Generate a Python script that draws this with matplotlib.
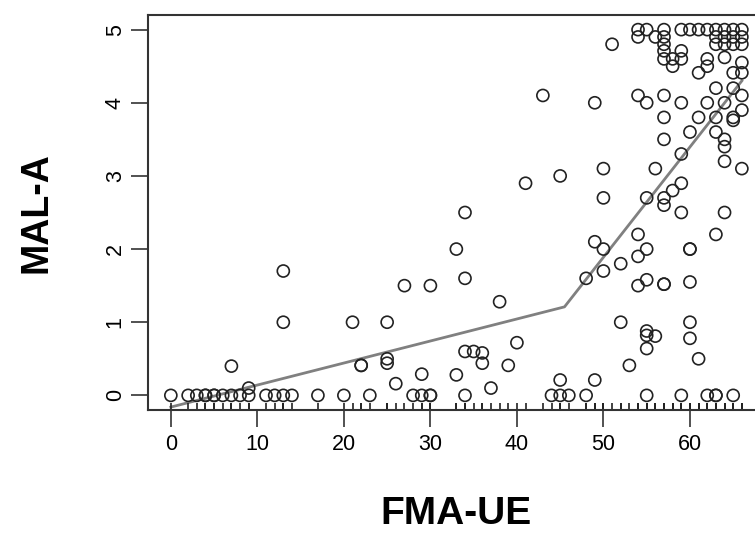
import numpy as np
import matplotlib.pyplot as plt

plt.rcParams['font.family'] = ['Liberation Sans', 'DejaVu Sans']

# FMA-UE scores and MAL-A scores
fma = [0, 2, 3, 4, 4, 5, 5, 6, 7, 8, 9, 11, 12, 13, 14, 17, 20, 23, 28, 29,
       30, 30, 34, 44, 45, 46, 48, 55, 59, 62, 63, 63, 65,
       7, 9, 13, 13, 21, 22, 22, 25, 25, 25, 26, 27, 29, 30, 33, 33, 34, 34,
       34, 35, 36, 36, 37, 38, 39, 40, 41, 43, 45, 45, 49,
       48, 49, 49, 50, 50, 50, 50, 51, 52, 52, 53, 54, 54, 54, 54, 54, 54,
       55, 55, 55, 55, 55, 55, 55, 55, 56, 56, 56,
       57, 57, 57, 57, 57, 57, 57, 57, 57, 57, 57, 57,
       58, 58, 58, 59, 59, 59, 59, 59, 59, 59,
       60, 60, 60, 60, 60, 60, 60, 61, 61, 61, 61, 62, 62, 62, 62,
       63, 63, 63, 63, 63, 63, 63, 64, 64, 64, 64, 64, 64, 64, 64, 64,
       65, 65, 65, 65, 65, 65, 65, 66, 66, 66, 66, 66, 66, 66, 66]
mal = [0] * 33 + \
      [0.4, 0.1, 1.0, 1.7, 1.0, 0.41, 0.41, 1.0, 0.5, 0.44, 0.16, 1.5, 0.29,
       1.5, 0.28, 2.0, 2.5, 1.6, 0.6, 0.6, 0.58, 0.44, 0.1, 1.28, 0.41, 0.72,
       2.9, 4.1, 3.0, 0.21, 0.21,
       1.6, 2.1, 4.0, 2.0, 1.7, 2.7, 3.1, 4.8, 1.8, 1.0, 0.41, 2.2, 1.9, 1.5,
       4.1, 5.0, 4.9,
       2.7, 2.0, 1.58, 0.88, 0.82, 0.64, 4.0, 5.0, 0.81, 3.1, 4.9,
       2.7, 2.6, 1.52, 1.52, 3.5, 3.8, 4.1, 5.0, 4.9, 4.8, 4.71, 4.6,
       2.8, 4.5, 4.6, 2.9, 2.5, 3.3, 4.0, 4.6, 4.71, 5.0,
       2.0, 2.0, 1.55, 1.0, 0.78, 3.6, 5.0, 0.5, 3.8, 4.41, 5.0, 4.0, 4.6, 4.5, 5.0,
       2.2, 3.6, 3.8, 4.2, 4.8, 4.9, 5.0, 2.5, 3.2, 3.4, 3.5, 4.0, 4.62, 4.8, 4.9, 5.0,
       3.76, 3.8, 4.2, 4.41, 4.8, 4.9, 5.0, 3.1, 3.9, 4.1, 4.41, 4.55, 4.8, 4.9, 5.0]

# segmented fit (breakpoint near 45)
fit_x = [0, 45.5, 66]
fit_y = [-0.16, 1.21, 4.3]

xticks = [0, 10, 20, 30, 40, 50, 60]
yticks = [0, 1, 2, 3, 4, 5]

fig = plt.figure(figsize=(7.55, 5.37), dpi=100)
ax = fig.add_axes([148/755, 1 - 410/537, (764.7 - 148)/755, (410 - 15)/537])

ax.scatter(fma, mal, s=75, facecolors='none', edgecolors='#222222', linewidths=1.2, zorder=3)
ax.plot(fit_x, fit_y, color='#808080', lw=2, zorder=2)
# rug along the bottom
ax.vlines(fma, 0, 0.018, transform=ax.get_xaxis_transform(), color='#222222', lw=1.2)

ax.set_xlim(-2.64, 68.64)
ax.set_ylim(-0.2, 5.2)
ax.set_xticks(xticks)
ax.set_yticks(yticks)
ax.set_yticklabels([str(v) for v in yticks], rotation=90, va='center')
ax.tick_params(axis='both', direction='out', length=12, width=1.2, color='#333333',
               labelsize=15.5)
ax.tick_params(axis='x', pad=5)
ax.tick_params(axis='y', pad=4)
for s in ax.spines.values():
    s.set_color('#333333')
    s.set_linewidth(1.5)

ax.set_xlabel('FMA-UE', fontsize=28, fontweight='bold', labelpad=30)
ax.set_ylabel('MAL-A', fontsize=27, fontweight='bold', labelpad=36)

fig.savefig('out.png', dpi=100)
